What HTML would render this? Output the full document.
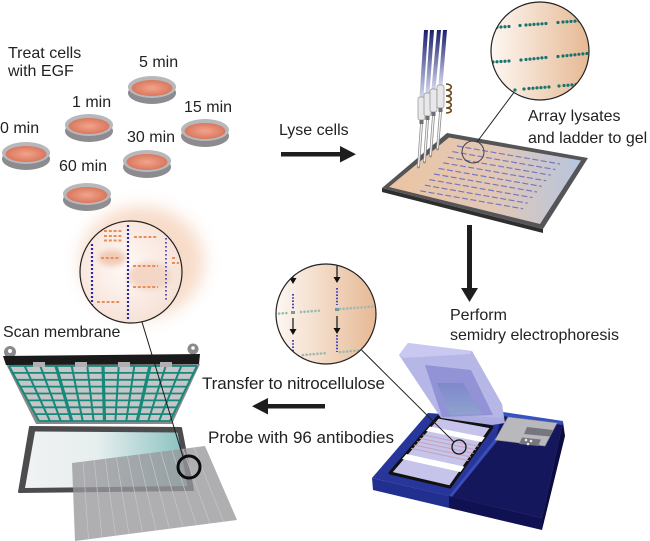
<!DOCTYPE html>
<html><head><meta charset="utf-8"><style>
html,body{margin:0;padding:0;background:#fff;}
svg{display:block}
text{font-family:"Liberation Sans",Arial,sans-serif;font-size:16px;fill:#222;}
</style></head><body>
<svg width="650" height="541" viewBox="0 0 650 541" xmlns="http://www.w3.org/2000/svg">
<defs>
 <radialGradient id="dishIn" cx="50%" cy="50%" r="50%">
  <stop offset="0" stop-color="#f2a48c"/><stop offset="1" stop-color="#d9785e"/>
 </radialGradient>
 <linearGradient id="peach" x1="0" x2="1" y1="0" y2="0">
  <stop offset="0" stop-color="#fdf7f2"/><stop offset="1" stop-color="#e6b994"/>
 </linearGradient>
 <linearGradient id="gel" x1="0" x2="1" y1="0" y2="0">
  <stop offset="0" stop-color="#ebc5a2"/><stop offset="0.55" stop-color="#e2c7b6"/><stop offset="1" stop-color="#b6c6de"/>
 </linearGradient>
 <linearGradient id="tube" x1="0" x2="0" y1="0" y2="1">
  <stop offset="0" stop-color="#1a1f6e"/><stop offset="1" stop-color="#d2d5ec"/>
 </linearGradient>
 <linearGradient id="glass" x1="0" x2="1">
  <stop offset="0" stop-color="#f0f2f2"/><stop offset="0.45" stop-color="#e6eeee"/><stop offset="1" stop-color="#86c0c0"/>
 </linearGradient>
 <linearGradient id="lidIn" x1="0" x2="0" y1="0" y2="1">
  <stop offset="0" stop-color="#7f88cc"/><stop offset="1" stop-color="#8fa2cf"/>
 </linearGradient>
 <radialGradient id="blIn" cx="45%" cy="45%" r="60%">
  <stop offset="0" stop-color="#fffaf8"/><stop offset="1" stop-color="#f6e0d4"/>
 </radialGradient>
 <filter id="blur8" x="-50%" y="-50%" width="200%" height="200%"><feGaussianBlur stdDeviation="8"/></filter>
 <filter id="blur3" x="-50%" y="-50%" width="200%" height="200%"><feGaussianBlur stdDeviation="3"/></filter>
 <clipPath id="cTR"><circle cx="540" cy="51" r="48.5"/></clipPath>
 <clipPath id="cMid"><circle cx="326" cy="314" r="49.5"/></clipPath>
 <clipPath id="cBL"><circle cx="131" cy="272" r="50.5"/></clipPath>
 <g id="dish">
  <ellipse cx="0" cy="4" rx="24" ry="11" fill="#8c8c90"/>
  <ellipse cx="0" cy="-2" rx="24" ry="11" fill="#b8b8bc"/>
  <ellipse cx="0" cy="-1" rx="20.5" ry="8" fill="url(#dishIn)"/>
 </g>
</defs>

<!-- ===== Dishes ===== -->
<use href="#dish" x="152" y="89"/>
<use href="#dish" x="89" y="127"/>
<use href="#dish" x="205" y="132"/>
<use href="#dish" x="26" y="155"/>
<use href="#dish" x="147" y="163"/>
<use href="#dish" x="87" y="196"/>

<text x="8" y="58">Treat cells</text>
<text x="8" y="76">with EGF</text>
<text x="139" y="67">5 min</text>
<text x="72" y="107">1 min</text>
<text x="184" y="112">15 min</text>
<text x="0" y="133">0 min</text>
<text x="127" y="142">30 min</text>
<text x="59" y="171">60 min</text>

<!-- Lyse arrow -->
<text x="279" y="135">Lyse cells</text>
<rect x="281" y="152" width="61" height="4.5" fill="#1e1e1e"/>
<polygon points="340,146 356,154.2 340,162.5" fill="#1e1e1e"/>

<!-- ===== Gel ===== -->
<polygon points="382,188 543,229 543,233 382,192" fill="#2e2e2e"/>
<polygon points="382,188 447,133 588,158 543,229" fill="#555558"/>
<polygon points="389,187 449,137.5 581,160.5 540,224" fill="url(#gel)"/>
<g stroke="#7278bc" stroke-width="1.15" stroke-dasharray="6 2.5">
 <line x1="457" y1="146" x2="560" y2="164"/>
 <line x1="452.4" y1="151.6" x2="555.4" y2="169.6"/>
 <line x1="447.8" y1="157.2" x2="550.8" y2="175.2"/>
 <line x1="443.2" y1="162.8" x2="546.2" y2="180.8"/>
 <line x1="438.6" y1="168.4" x2="541.6" y2="186.4"/>
 <line x1="434" y1="174" x2="537" y2="192"/>
 <line x1="429.4" y1="179.6" x2="532.4" y2="197.6"/>
 <line x1="424.8" y1="185.2" x2="527.8" y2="203.2"/>
 <line x1="420.2" y1="190.8" x2="523.2" y2="208.8"/>
</g>
<circle cx="473" cy="152" r="11" fill="none" stroke="#444" stroke-width="1"/>
<line x1="477" y1="142" x2="515" y2="91" stroke="#222" stroke-width="1"/>

<!-- Pipettes -->
<g>
 <polygon points="424,30 428,30 423.5,97 419.5,97" fill="url(#tube)"/>
 <polygon points="430,30 434,30 429.5,93 425.5,93" fill="url(#tube)"/>
 <polygon points="437,30 441,30 435.5,89 431.5,89" fill="url(#tube)"/>
 <polygon points="443,30 447,30 442.5,85 438.5,85" fill="url(#tube)"/>
 <path d="M446,84 c7,0 7,6 0,6 c7,0 7,6 0,6 c7,0 7,6 0,6 c7,0 7,6 0,6 c7,0 7,5 0,5" stroke="#6b4a1a" stroke-width="1.6" fill="none"/>
 <g stroke="#8a8a8a" stroke-width="2.8" stroke-linecap="round">
  <line x1="421.5" y1="124" x2="418.5" y2="167"/>
  <line x1="427.5" y1="120" x2="424.5" y2="162"/>
  <line x1="433.5" y1="116" x2="430.5" y2="156"/>
  <line x1="440.5" y1="112" x2="437.5" y2="149"/>
 </g>
 <g stroke="#f4f4f4" stroke-width="1.3" stroke-linecap="round">
  <line x1="421.5" y1="124" x2="418.5" y2="166"/>
  <line x1="427.5" y1="120" x2="424.5" y2="161"/>
  <line x1="433.5" y1="116" x2="430.5" y2="155"/>
  <line x1="440.5" y1="112" x2="437.5" y2="148"/>
 </g>
 <g fill="#e8e8ea" stroke="#8f8f92" stroke-width="0.7">
  <rect x="418" y="97" width="7" height="23" rx="2"/>
  <rect x="424" y="93" width="7" height="23" rx="2"/>
  <rect x="430" y="89" width="7" height="23" rx="2"/>
  <rect x="437" y="85" width="7" height="23" rx="2"/>
 </g>
 <g fill="#6f6f72">
  <rect x="419.5" y="120" width="4" height="4"/>
  <rect x="425.5" y="116" width="4" height="4"/>
  <rect x="431.5" y="112" width="4" height="4"/>
  <rect x="438.5" y="108" width="4" height="4"/>
 </g>
</g>

<!-- Top-right magnifier -->
<circle cx="540" cy="51" r="49" fill="url(#peach)"/>
<g clip-path="url(#cTR)" stroke="#17746f" stroke-width="3.2" stroke-linecap="round" stroke-dasharray="0 4">
 <line x1="493" y1="27.5" x2="509" y2="26.5"/>
 <line x1="520" y1="25.5" x2="520" y2="25.5"/>
 <line x1="526" y1="25" x2="546" y2="23.5"/>
 <line x1="558" y1="22.5" x2="558" y2="22.5"/>
 <line x1="563" y1="22" x2="591" y2="20"/>
 <line x1="493" y1="62" x2="509" y2="61"/>
 <line x1="521" y1="60" x2="521" y2="60"/>
 <line x1="526" y1="59.5" x2="546" y2="57.5"/>
 <line x1="558" y1="56.5" x2="558" y2="56.5"/>
 <line x1="563" y1="56" x2="591" y2="53"/>
 <line x1="515" y1="90" x2="515" y2="90"/>
 <line x1="524" y1="89" x2="524" y2="89"/>
 <line x1="529" y1="88.5" x2="549" y2="87"/>
 <line x1="559" y1="86" x2="559" y2="86"/>
 <line x1="564" y1="85.5" x2="590" y2="83.5"/>
</g>
<circle cx="540" cy="51" r="49" fill="none" stroke="#222" stroke-width="1.2"/>
<text x="528" y="121">Array lysates</text>
<text x="528" y="143">and ladder to gel</text>

<!-- Down arrow -->
<rect x="467" y="225" width="5" height="65" fill="#1e1e1e"/>
<polygon points="461,288 478,288 469.5,302" fill="#1e1e1e"/>
<text x="450" y="320">Perform</text>
<text x="450" y="340">semidry electrophoresis</text>

<!-- ===== Electrophoresis device ===== -->
<polygon points="372,478 428,413 563,422 542,518" fill="#28369c"/>
<polygon points="449,496 496,437 503,413 563,422 542,518" fill="#15175c"/>
<polygon points="503,412 563,421 562.5,425 502,416" fill="#3553c0"/>
<polygon points="449,496 496,437 498,440 451,498" fill="#3a4cb8"/>
<polygon points="372,478 449,496 449,508 373,490" fill="#21308e"/>
<polygon points="449,496 542,518 542,530 449,508" fill="#0f1152"/>
<polygon points="542,518 563,422 565,436 542,530" fill="#0a0c40"/>
<!-- panel -->
<polygon points="495,440 508,417 557,423 545,446" fill="#b9b9bd" stroke="#8a8a90" stroke-width="0.6"/>
<polygon points="527,427 553,430 550,436.5 524,434" fill="#76767e"/>
<polygon points="522,437.5 541,439.5 538,446 519,444" fill="#76767e"/>
<circle cx="526" cy="440" r="1.3" fill="#e8e8ee"/>
<circle cx="531" cy="441" r="1.3" fill="#e8e8ee"/>
<circle cx="528" cy="444" r="1.3" fill="#e8e8ee"/>
<!-- tray -->
<polygon points="390,473 438,417 492,427 450,487" fill="#c6c4ea" stroke="#111" stroke-width="3" stroke-linejoin="round"/>
<polygon points="429.8,426.5 484.9,437.2 481.5,442 426,431" fill="#ffffff"/>
<g stroke="#c7a2b8" stroke-width="1">
 <line x1="422.6" y1="434.9" x2="478.6" y2="446.2"/>
 <line x1="419.8" y1="438.3" x2="476" y2="449.8"/>
 <line x1="416.9" y1="441.6" x2="473.6" y2="453.4"/>
 <line x1="414" y1="445" x2="471" y2="457"/>
 <line x1="411.1" y1="448.4" x2="468.5" y2="460.6"/>
</g>
<polygon points="406.3,454 464.3,466.6 460.5,472 402,459" fill="#ffffff"/>
<!-- lid -->
<polygon points="399,355 408,343 472,351 502,404 505,423 492,425 441,418" fill="#b3b3e6" opacity="0.95"/>
<polygon points="399,355 408,343 472,351 470,354 403,358" fill="#c8c8f0"/>
<polygon points="425,365 471,370 493,415 442,417" fill="#9293d6"/>
<polygon points="437,383 463,383 482,414 450,415" fill="url(#lidIn)"/>
<!-- connector middle -->
<line x1="361.5" y1="350" x2="454" y2="442" stroke="#222" stroke-width="1"/>
<circle cx="459" cy="447" r="7" fill="none" stroke="#111" stroke-width="1.3"/>

<!-- Middle magnifier -->
<circle cx="326" cy="314" r="50" fill="url(#peach)"/>
<g clip-path="url(#cMid)">
 <g stroke="#9bbab4" stroke-width="2.6" stroke-linecap="round" stroke-dasharray="0 3.6">
  <line x1="272" y1="314" x2="287" y2="313"/>
  <line x1="301" y1="312" x2="321" y2="310.5"/>
  <line x1="340" y1="309" x2="380" y2="306"/>
  <line x1="303" y1="355" x2="327" y2="353"/>
  <line x1="340" y1="352" x2="376" y2="349"/>
 </g>
 <g stroke="#4646bc" stroke-width="2" stroke-dasharray="1.6 1.6">
  <line x1="293" y1="294" x2="293" y2="310"/>
  <line x1="293" y1="340" x2="293" y2="353"/>
  <line x1="337" y1="288" x2="337" y2="305"/>
  <line x1="337" y1="335" x2="337" y2="352"/>
 </g>
 <rect x="291" y="311" width="4" height="3" fill="#7a9a98"/>
 <rect x="335" y="308" width="4" height="3" fill="#7a9a98"/>
 <g stroke="#111" stroke-width="1.2">
  <line x1="293" y1="270" x2="293" y2="280"/>
  <line x1="337" y1="264" x2="337" y2="278"/>
  <line x1="293" y1="318" x2="293" y2="330"/>
  <line x1="337" y1="316" x2="337" y2="329"/>
 </g>
 <g fill="#111">
  <polygon points="289.5,278 296.5,278 293,284"/>
  <polygon points="333.5,277 340.5,277 337,283"/>
  <polygon points="289.5,329 296.5,329 293,335"/>
  <polygon points="333.5,328 340.5,328 337,334"/>
 </g>
</g>
<circle cx="326" cy="314" r="50" fill="none" stroke="#222" stroke-width="1.2"/>

<!-- Left arrow -->
<text x="202" y="389" style="font-size:17px" textLength="183">Transfer to nitrocellulose</text>
<rect x="265" y="404" width="60" height="4.5" fill="#1e1e1e"/>
<polygon points="252,406.2 268,398 268,414.5" fill="#1e1e1e"/>
<text x="208" y="443" style="font-size:17px" textLength="186">Probe with 96 antibodies</text>

<!-- ===== Scanner ===== -->
<polygon points="30,427 181,428 193,490 19,492" fill="#4c4c4e" stroke="#4c4c4e" stroke-width="2" stroke-linejoin="round"/>
<polygon points="35,431.5 177.5,432.5 187.5,486 25,488" fill="url(#glass)"/>
<circle cx="10" cy="352" r="6" fill="#8a8a8e"/>
<circle cx="10" cy="351" r="2" fill="#fff"/>
<circle cx="193" cy="349" r="5.5" fill="#8a8a8e"/>
<circle cx="193" cy="348" r="1.8" fill="#fff"/>
<polygon points="6,364 200,364 172,424 36,424" fill="#8a8a8c"/>
<polygon points="9,366 197,366 170,421 39,421" fill="#c6c6c8"/>
<g stroke="#17887a" stroke-width="2">
 <line x1="9" y1="366" x2="39" y2="421"/>
 <line x1="24.7" y1="366" x2="49.9" y2="421"/>
 <line x1="40.3" y1="366" x2="60.8" y2="421"/>
 <line x1="71.7" y1="366" x2="82.7" y2="421"/>
 <line x1="87.3" y1="366" x2="93.6" y2="421"/>
 <line x1="118.7" y1="366" x2="115.4" y2="421"/>
 <line x1="134.3" y1="366" x2="126.3" y2="421"/>
 <line x1="165.7" y1="366" x2="148.2" y2="421"/>
 <line x1="181.3" y1="366" x2="159.1" y2="421"/>
 <line x1="197" y1="366" x2="170" y2="421"/>
</g>
<g stroke="#17887a" stroke-width="3.2">
 <line x1="56" y1="366" x2="71.75" y2="421"/>
 <line x1="103" y1="366" x2="104.5" y2="421"/>
 <line x1="150" y1="366" x2="137.25" y2="421"/>
</g>
<g stroke="#17887a" stroke-width="1.8">
 <line x1="9" y1="366" x2="197" y2="366"/>
 <line x1="12.7" y1="372.9" x2="193.6" y2="372.9"/>
 <line x1="16.5" y1="379.8" x2="190.3" y2="379.8"/>
 <line x1="20.2" y1="386.6" x2="186.9" y2="386.6"/>
 <line x1="24" y1="393.5" x2="183.5" y2="393.5"/>
 <line x1="27.7" y1="400.4" x2="180.1" y2="400.4"/>
 <line x1="31.5" y1="407.3" x2="176.8" y2="407.3"/>
 <line x1="35.2" y1="414.1" x2="173.4" y2="414.1"/>
 <line x1="39" y1="421" x2="170" y2="421"/>
</g>
<polygon points="3,356 200,354 199,364 6,365" fill="#1a1a1a"/>
<g fill="#b0b0b2">
 <rect x="33" y="362" width="12" height="5"/>
 <rect x="75" y="362" width="12" height="5"/>
 <rect x="118" y="362" width="12" height="5"/>
 <rect x="160" y="362" width="12" height="5"/>
</g>
<polygon points="72,463 205,446 237,520 75,541" fill="#98989c" opacity="0.78"/>
<g stroke="#c6c6c8" stroke-width="0.7">
 <line x1="83.1" y1="461.6" x2="88.5" y2="539.3"/>
 <line x1="94.2" y1="460.2" x2="102" y2="537.5"/>
 <line x1="105.3" y1="458.8" x2="115.5" y2="535.8"/>
 <line x1="116.3" y1="457.3" x2="129" y2="534"/>
 <line x1="127.4" y1="455.9" x2="142.5" y2="532.3"/>
 <line x1="138.5" y1="454.5" x2="156" y2="530.5"/>
 <line x1="149.6" y1="453.1" x2="169.5" y2="528.8"/>
 <line x1="160.7" y1="451.7" x2="183" y2="527"/>
 <line x1="171.8" y1="450.3" x2="196.5" y2="525.3"/>
 <line x1="182.8" y1="448.8" x2="210" y2="523.5"/>
 <line x1="193.9" y1="447.4" x2="223.5" y2="521.8"/>
</g>
<circle cx="189" cy="467" r="11" fill="none" stroke="#0c0c0c" stroke-width="3"/>

<!-- Bottom-left magnifier -->
<ellipse cx="142" cy="262" rx="62" ry="56" fill="#f2bf9e" opacity="0.55" filter="url(#blur8)"/>
<circle cx="131" cy="272" r="51" fill="url(#blIn)"/>
<g clip-path="url(#cBL)">
 <ellipse cx="112" cy="258" rx="14" ry="8" fill="#f0cbb8" filter="url(#blur3)"/>
 <ellipse cx="150" cy="276" rx="22" ry="14" fill="#f3d6c6" filter="url(#blur3)"/>
 <g stroke="#2a2aa8" stroke-width="2.2" stroke-dasharray="2 2">
  <line x1="92" y1="244" x2="92" y2="306"/>
  <line x1="128" y1="225" x2="128" y2="320"/>
 </g>
 <line x1="166" y1="238" x2="166" y2="302" stroke="#3a3ab0" stroke-width="1.6" stroke-dasharray="1.6 2.4"/>
 <g stroke="#e88e5a" stroke-width="2" stroke-dasharray="3 1.8">
  <line x1="104" y1="231" x2="122" y2="231"/>
  <line x1="104" y1="236" x2="122" y2="236"/>
  <line x1="104" y1="240.5" x2="122" y2="240.5"/>
  <line x1="134" y1="237" x2="158" y2="237"/>
  <line x1="101" y1="258" x2="119" y2="258"/>
  <line x1="133" y1="266" x2="158" y2="266"/>
  <line x1="133" y1="287" x2="158" y2="287"/>
  <line x1="97" y1="302" x2="121" y2="302"/>
  <line x1="172" y1="258" x2="177" y2="258"/>
  <line x1="172" y1="263" x2="179" y2="263"/>
 </g>
</g>
<circle cx="131" cy="272" r="51" fill="none" stroke="#222" stroke-width="1.2"/>
<line x1="142" y1="322" x2="183" y2="457" stroke="#1a1a1a" stroke-width="1"/>
<text x="3" y="337">Scan membrane</text>
</svg>
</body></html>
